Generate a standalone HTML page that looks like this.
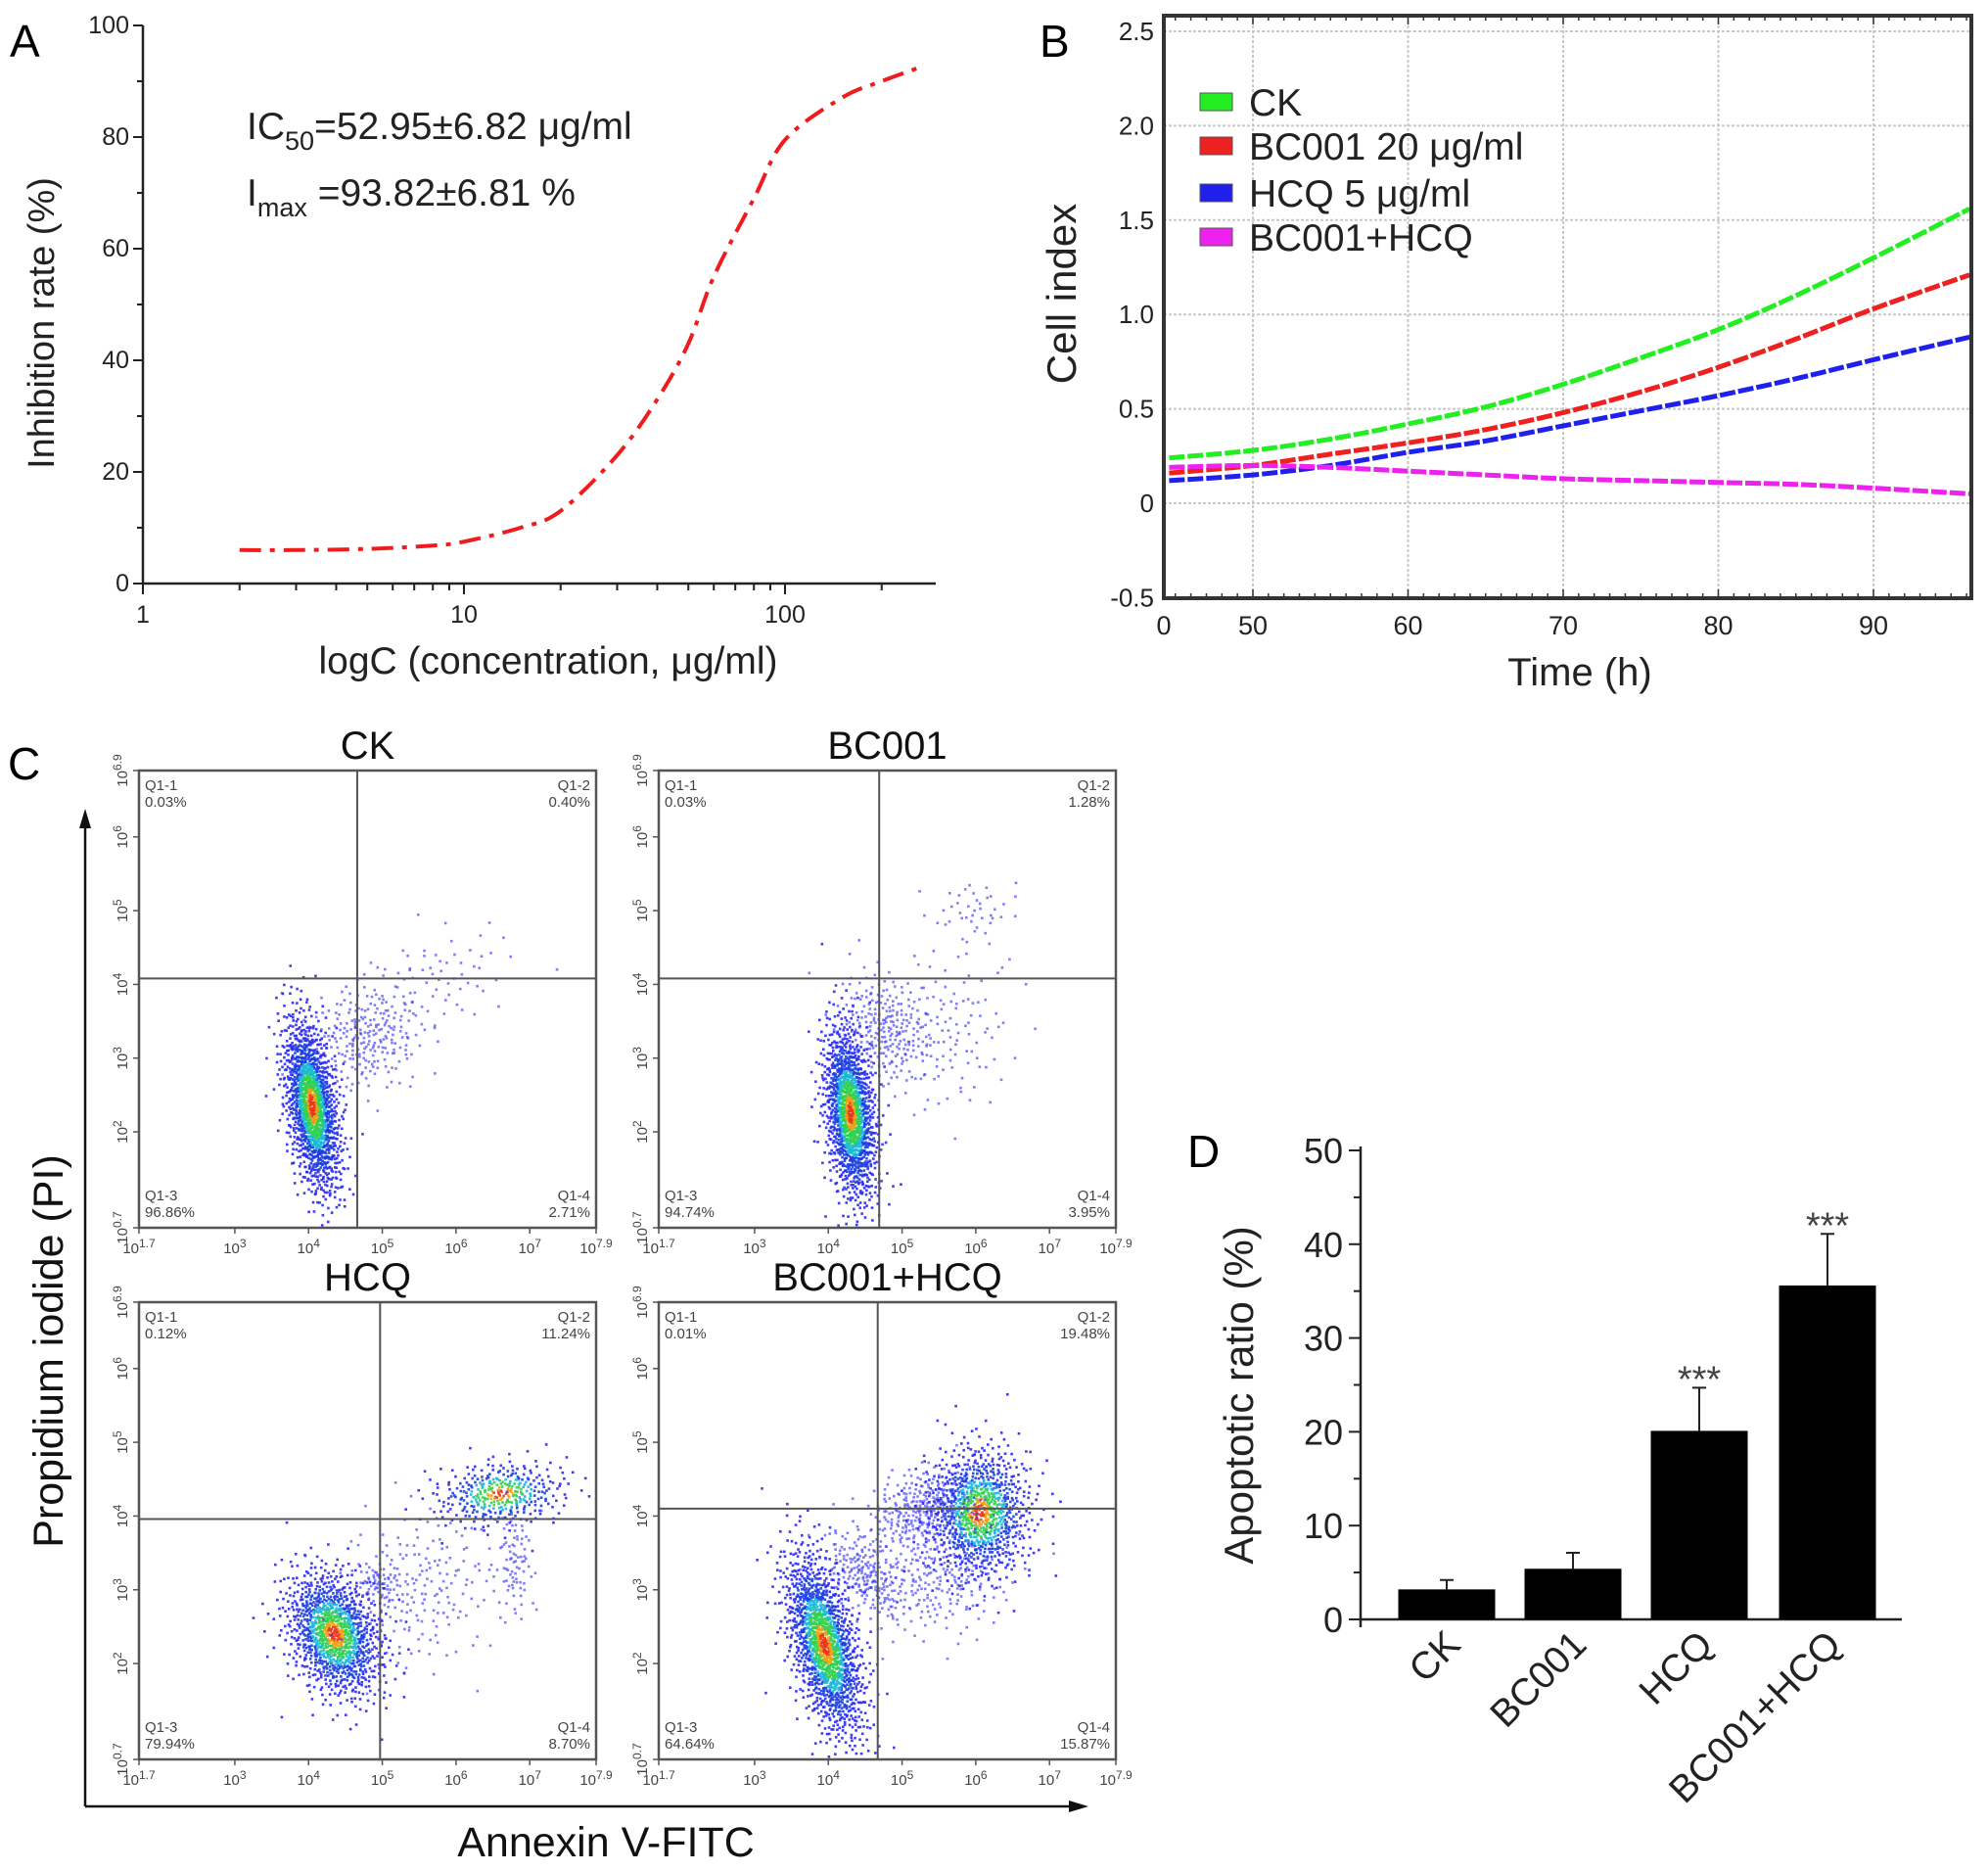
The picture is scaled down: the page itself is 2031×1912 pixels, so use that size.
<!DOCTYPE html>
<html><head><meta charset="utf-8"><style>
html,body{margin:0;padding:0;background:#fff}
svg{display:block}
text{font-family:"Liberation Sans",Arial,sans-serif}
</style></head><body>
<svg id="fig" width="2031" height="1912" viewBox="0 0 2031 1912" xmlns="http://www.w3.org/2000/svg"></svg>
<script>
// ---------- Panel A data ----------
const aConc = [2,3,5,8,10,15,20,30,40,50,60,80,100,150,200,260];
const aRate = [6,6,6.2,6.8,7.5,10,13,23,33,43,55,69,79.5,87,90,92.4];
const aYTicks = [0,20,40,60,80,100];
const aXTicks = [1,10,100];
// ---------- Panel B data ----------
const bTimes = [44.6,50,55,60,65,70,75,80,85,90,96.2];
const bCK    = [0.24,0.28,0.34,0.42,0.51,0.63,0.77,0.92,1.10,1.30,1.56];
const bBC001 = [0.16,0.20,0.26,0.32,0.39,0.48,0.59,0.72,0.87,1.03,1.21];
const bHCQ   = [0.12,0.15,0.20,0.27,0.33,0.41,0.49,0.57,0.66,0.76,0.88];
const bCombo = [0.19,0.20,0.19,0.17,0.15,0.13,0.12,0.11,0.10,0.08,0.05];
const bSeriesNames = ["CK","BC001 20 μg/ml","HCQ  5 μg/ml","BC001+HCQ"];
const bYTicks = [-0.5,0,0.5,1.0,1.5,2.0,2.5];
const bYLabels = ["-0.5","0","0.5","1.0","1.5","2.0","2.5"];
const bXTicks = [50,60,70,80,90];
// ---------- Panel D data ----------
const dCats = ["CK","BC001","HCQ","BC001+HCQ"];
const dVals = [3.2,5.4,20.1,35.6];
const dErr  = [1.0,1.7,4.6,5.5];
const dSig  = ["","","***","***"];
const dYTicks = [0,10,20,30,40,50];
// ---------- Panel C data (clusters in log10 units) ----------
const cTitles = ["CK","BC001","HCQ","BC001+HCQ"];
const cGateX = [4.66,4.69,4.97,4.67];
const cGateY = [4.08,4.08,3.96,4.10];
const cQ1 = ["0.03%","0.03%","0.12%","0.01%"];
const cQ2 = ["0.40%","1.28%","11.24%","19.48%"];
const cQ3 = ["96.86%","94.74%","79.94%","64.64%"];
const cQ4 = ["2.71%","3.95%","8.70%","15.87%"];
// cluster rows: [centerX, centerY, sdX, sdY, angle, count, dense(1)/sparse(0)]
const cClustersCK = [[4.05,2.35,0.17,0.6,0.15,1400,1],[4.8,3.3,0.4,0.35,0.6,250,0],[5.8,4.1,0.5,0.35,0.3,60,0]];
const cClustersBC = [[4.3,2.25,0.17,0.6,0.1,1300,1],[4.8,3.4,0.3,0.4,0.5,250,0],[5.7,3.4,0.4,0.6,0,100,0],[6.0,5.0,0.3,0.2,0,40,0]];
const cClustersHCQ = [[4.35,2.4,0.3,0.45,0.4,1100,1],[6.6,4.3,0.45,0.22,0.1,350,1],[6.8,3.4,0.12,0.4,0,80,0],[5.5,3.0,0.6,0.5,0.6,200,0],[4.95,3.1,0.15,0.15,0,60,0]];
const cClustersCombo = [[3.95,2.25,0.22,0.65,0.25,1400,1],[6.05,4.05,0.35,0.45,0,900,1],[5.3,4.1,0.4,0.25,0.4,300,0],[5.5,3.2,0.5,0.4,0.3,250,0],[4.5,3.2,0.2,0.35,0.7,200,0]];

const NS="http://www.w3.org/2000/svg";
const svg=document.getElementById('fig');
function el(tag,attrs,parent,txt){const e=document.createElementNS(NS,tag);for(const k in attrs)e.setAttribute(k,attrs[k]);if(txt!==undefined)e.textContent=txt;(parent||svg).appendChild(e);return e;}
function grp(name){const g=el('g',{});return g;}
function catmull(pts){let d='M'+pts[0][0]+','+pts[0][1];for(let i=0;i<pts.length-1;i++){const p0=pts[Math.max(0,i-1)],p1=pts[i],p2=pts[i+1],p3=pts[Math.min(pts.length-1,i+2)];const c1=[p1[0]+(p2[0]-p0[0])/6,p1[1]+(p2[1]-p0[1])/6],c2=[p2[0]-(p3[0]-p1[0])/6,p2[1]-(p3[1]-p1[1])/6];d+=` C${c1[0]},${c1[1]} ${c2[0]},${c2[1]} ${p2[0]},${p2[1]}`;}return d;}

// ================= Panel A =================
(function(){
const g=grp('panel-a');
const L=146,R=956,T=26,B=596;
const ax=c=>L+Math.log10(c)*328;
const ay=v=>B-v*(B-T)/100;
let t=el('text',{x:10,y:58,'font-size':46},g,'A');
el('line',{x1:L,y1:T,x2:L,y2:B,stroke:'#222','stroke-width':2.5},g);
el('line',{x1:L,y1:B,x2:R,y2:B,stroke:'#222','stroke-width':2.5},g);
for(let v=0;v<=100;v+=10){el('line',{x1:L-(v%20===0?10:6),y1:ay(v),x2:L,y2:ay(v),stroke:'#222','stroke-width':2},g);}
aYTicks.forEach(v=>{const tt=el('text',{x:L-14,y:ay(v)+8,'font-size':25,'text-anchor':'end',fill:'#222'},g,String(v));});
for(let d=0;d<3;d++)for(let k=1;k<10;k++){const c=Math.pow(10,d)*k;const x=ax(c);if(x>R)continue;el('line',{x1:x,y1:B,x2:x,y2:B+(k===1?11:7),stroke:'#222','stroke-width':2},g);}
aXTicks.forEach(c=>{const tt=el('text',{x:ax(c),y:B+40,'font-size':25,'text-anchor':'middle',fill:'#222'},g,String(c));});
t=el('text',{x:560,y:688,'font-size':39,'text-anchor':'middle',fill:'#222'},g,'logC (concentration, μg/ml)');
t=el('text',{x:0,y:0,'font-size':38,'text-anchor':'middle',fill:'#222',transform:'translate(55,330) rotate(-90)'},g,'Inhibition rate (%)');
t=el('text',{x:252,y:142,'font-size':39,fill:'#222'},g);
t.innerHTML='IC<tspan font-size="27" dy="11">50</tspan><tspan dy="-11">=52.95±6.82 μg/ml</tspan>';
t=el('text',{x:252,y:210,'font-size':39,fill:'#222'},g);
t.innerHTML='I<tspan font-size="27" dy="11">max</tspan><tspan dy="-11"> =93.82±6.81 %</tspan>';
const pts=aConc.map((c,i)=>[ax(c),ay(aRate[i])]);
const p=el('path',{d:catmull(pts),fill:'none',stroke:'#ee1c1c','stroke-width':4,'stroke-dasharray':'22 9 5 9'},g);

})();

// ================= Panel B =================
(function(){
const g=grp('panel-b');
const L=1189,R=2014,T=16,B=611;
const bx=h=>1280+(h-50)*15.85;
const by=v=>514-v*192.8;
let t=el('text',{x:1062,y:58,'font-size':46},g,'B');
bYTicks.forEach((v,i)=>{if(v>-0.5)el('line',{x1:L,y1:by(v),x2:R,y2:by(v),stroke:'#c8c8c8','stroke-width':2,'stroke-dasharray':'3 2'},g);
const tt=el('text',{x:L-10,y:by(v)+9,'font-size':26,'text-anchor':'end',fill:'#222'},g,bYLabels[i]);});
bXTicks.forEach(h=>{el('line',{x1:bx(h),y1:T,x2:bx(h),y2:B,stroke:'#c8c8c8','stroke-width':2,'stroke-dasharray':'3 2'},g);
const tt=el('text',{x:bx(h),y:B+37,'font-size':27,'text-anchor':'middle',fill:'#222'},g,String(h));});
t=el('text',{x:L,y:B+37,'font-size':27,'text-anchor':'middle',fill:'#222'},g,'0');
for(let h=45;h<=96;h++){const x=bx(h);if(x<L||x>R)continue;el('line',{x1:x,y1:B,x2:x,y2:B-(h%10===0?9:5),stroke:'#333','stroke-width':1.5},g);el('line',{x1:x,y1:T,x2:x,y2:T+(h%10===0?9:5),stroke:'#333','stroke-width':1.5},g);}
const series=[[bCK,'#22ee22'],[bBC001,'#ee2020'],[bHCQ,'#2020ee'],[bCombo,'#ee22ee']];
series.forEach((s,si)=>{const pts=bTimes.map((h,i)=>[bx(h),by(s[0][i])]);const p=el('path',{d:catmull(pts),fill:'none',stroke:s[1],'stroke-width':5,'stroke-dasharray':'16 3'},g);});
el('rect',{x:L,y:T,width:R-L,height:B-T,fill:'none',stroke:'#333','stroke-width':4},g);
const legY=[104,149,197,242];
series.forEach((s,i)=>{const lg=grp('b-legend-entry');g.appendChild(lg);el('rect',{x:1226,y:legY[i]-9,width:33,height:18,fill:s[1],stroke:'#555','stroke-width':1},lg);el('text',{x:1276,y:legY[i]+14,'font-size':39,fill:'#222'},lg,bSeriesNames[i]);});
t=el('text',{x:0,y:0,'font-size':42,'text-anchor':'middle',fill:'#222',transform:'translate(1099,300) rotate(-90)'},g,'Cell index');
t=el('text',{x:1614,y:700,'font-size':40,'text-anchor':'middle',fill:'#222'},g,'Time (h)');
})();

// ================= Panel D =================
(function(){
const g=grp('panel-d');
const L=1390,R=1943,T=1175,B=1654;
const dy=v=>B-v*(B-T)/50;
const cx=[1478,1607,1736,1867];const bw=99;
let t=el('text',{x:1213,y:1192,'font-size':46},g,'D');
el('line',{x1:L,y1:T-4,x2:L,y2:B+8,stroke:'#222','stroke-width':2.5},g);
el('line',{x1:L,y1:B,x2:R,y2:B,stroke:'#222','stroke-width':2.5},g);
for(let v=0;v<=50;v+=5){el('line',{x1:L-(v%10===0?12:7),y1:dy(v),x2:L,y2:dy(v),stroke:'#222','stroke-width':2},g);}
dYTicks.forEach(v=>{const tt=el('text',{x:L-18,y:dy(v)+13,'font-size':36,'text-anchor':'end',fill:'#222'},g,String(v));});
dVals.forEach((v,i)=>{
 const e=el('line',{x1:cx[i],y1:dy(v),x2:cx[i],y2:dy(v+dErr[i]),stroke:'#222','stroke-width':2},g);
 el('line',{x1:cx[i]-7,y1:dy(v+dErr[i]),x2:cx[i]+7,y2:dy(v+dErr[i]),stroke:'#222','stroke-width':2},g);
 const r=el('rect',{x:cx[i]-bw/2,y:dy(v),width:bw,height:B-dy(v),fill:'#000'},g);
 if(dSig[i]){const s=el('text',{x:cx[i],y:dy(v+dErr[i])+4,'font-size':38,'text-anchor':'middle',fill:'#444'},g,dSig[i]);}
 const c=el('text',{x:0,y:0,'font-size':39,'text-anchor':'end',fill:'#222',transform:`translate(${cx[i]+16},${B+28}) rotate(-45)`},g,dCats[i]);
});
t=el('text',{x:0,y:0,'font-size':42,'text-anchor':'middle',fill:'#222',transform:'translate(1280,1425) rotate(-90)'},g,'Apoptotic ratio (%)');
})();

// ================= Panel C =================
function halton(i,b){let f=1,r=0;while(i>0){f/=b;r+=f*(i%b);i=Math.floor(i/b);}return r;}
(function(){
const g=grp('panel-c');
let t=el('text',{x:8,y:796,'font-size':46},g,'C');
const boxes=[[142,787],[673,787],[142,1330],[673,1330]];const W=467,H=467;
const clusters=[cClustersCK,cClustersBC,cClustersHCQ,cClustersCombo];
boxes.forEach((bxy,pi)=>{
 const pg=grp('flow-plot-'+cTitles[pi].toLowerCase().replace('+','-'));g.appendChild(pg);
 const L=bxy[0],T=bxy[1],Bm=T+H,R=L+W;
 const fx=v=>L+(v-1.7)/6.2*W, fy=v=>Bm-(v-0.7)/6.2*H;
 const tt=el('text',{x:L+W/2,y:T-12,'font-size':40,'text-anchor':'middle',fill:'#111'},pg,cTitles[pi]);
 let seed=1+pi*5000;
 clusters[pi].forEach(c=>{
  const [mx,my,sx,sy,ang,n,dense]=c;const ca=Math.cos(ang),sa=Math.sin(ang);
  for(let k=0;k<n;k++){seed++;const u=Math.max(1e-4,halton(seed,2)),v=halton(seed,3);const r=Math.sqrt(-2*Math.log(u));const th=2*Math.PI*v;
   const dx=r*Math.cos(th)*sx,dyv=r*Math.sin(th)*sy;const X=mx+dx*ca-dyv*sa,Y=my+dx*sa+dyv*ca;
   if(X<1.72||X>7.88||Y<0.72||Y>6.88)continue;
   let col='#2a2af0';if(dense){if(r<0.25)col='#e8381a';else if(r<0.42)col='#f0a010';else if(r<0.75)col='#30d050';else if(r<1.0)col='#18b8d8';else if(r<1.5)col='#1a3ce0';}
   el('rect',{x:fx(X)-1.3,y:fy(Y)-1.3,width:2.6,height:2.6,fill:col,opacity:dense?0.9:0.6},pg);}
 });
 el('rect',{x:L,y:T,width:W,height:H,fill:'none',stroke:'#555','stroke-width':2.5},pg);
 const gx=el('line',{x1:fx(cGateX[pi]),y1:T,x2:fx(cGateX[pi]),y2:Bm,stroke:'#555','stroke-width':2},pg);
 const gy=el('line',{x1:L,y1:fy(cGateY[pi]),x2:R,y2:fy(cGateY[pi]),stroke:'#555','stroke-width':2},pg);
 const ql=[[L+6,T+20,'start','Q1-1',cQ1[pi]],[R-6,T+20,'end','Q1-2',cQ2[pi]],[L+6,Bm-28,'start','Q1-3',cQ3[pi]],[R-6,Bm-28,'end','Q1-4',cQ4[pi]]];
 ql.forEach(q=>{const qg=grp('quadrant-label');pg.appendChild(qg);el('text',{x:q[0],y:q[1],'font-size':15,'text-anchor':q[2],fill:'#444'},qg,q[3]);el('text',{x:q[0],y:q[1]+17,'font-size':15,'text-anchor':q[2],fill:'#444'},qg,q[4]);});
 const xt=[1.7,3,4,5,6,7,7.9];
 xt.forEach(v=>{el('line',{x1:fx(v),y1:Bm,x2:fx(v),y2:Bm+6,stroke:'#555','stroke-width':1.5},pg);const x=el('text',{x:fx(v),y:Bm+26,'font-size':15,'text-anchor':'middle',fill:'#444'},pg);x.innerHTML='10<tspan font-size="12" dy="-6">'+v+'</tspan>';});
 const yt=[0.7,2,3,4,5,6,6.9];
 yt.forEach(v=>{el('line',{x1:L-6,y1:fy(v),x2:L,y2:fy(v),stroke:'#555','stroke-width':1.5},pg);const y=el('text',{x:0,y:0,'font-size':15,'text-anchor':'middle',fill:'#444',transform:`translate(${L-12},${fy(v)}) rotate(-90)`},pg);y.innerHTML='10<tspan font-size="12" dy="-6">'+v+'</tspan>';});
});
el('line',{x1:87,y1:1845,x2:87,y2:840,stroke:'#111','stroke-width':2.5},g);
el('polygon',{points:'87,826 81,846 93,846',fill:'#111'},g);
el('line',{x1:87,y1:1845,x2:1098,y2:1845,stroke:'#111','stroke-width':2.5},g);
el('polygon',{points:'1112,1845 1092,1839 1092,1851',fill:'#111'},g);
t=el('text',{x:0,y:0,'font-size':43,'text-anchor':'middle',fill:'#111',transform:'translate(64,1380) rotate(-90)'},g,'Propidium iodide (PI)');
t=el('text',{x:619,y:1896,'font-size':43,'text-anchor':'middle',fill:'#111'},g,'Annexin V-FITC');
})();
</script>
</body></html>
